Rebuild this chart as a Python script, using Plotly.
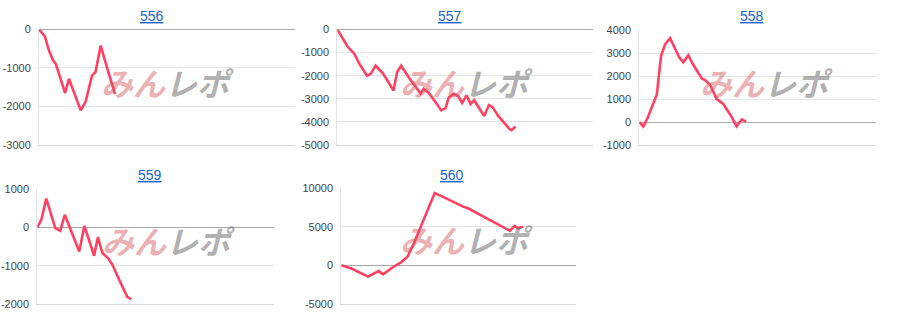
import plotly.graph_objects as go

# ---- data (x: position along play, 0-100 scale; y: difference in medals) ----
titles = ["556", "557", "558", "559", "560"]

x556 = [0, 2.3, 3.9, 5.5, 6.6, 10.2, 11.7, 16.3, 18.2, 20.7, 22.1, 24.1, 26.6, 29.7]
y556 = [0, -180, -550, -800, -900, -1650, -1280, -2100, -1880, -1200, -1100, -420, -1000, -1680]

x557 = [0, 4.0, 6.7, 8.6, 11.6, 13.0, 15.0, 17.8, 19.8, 22.0, 23.4, 25.0, 28.3, 32.6,
        33.8, 35.8, 38.5, 40.7, 42.4, 43.6, 45.6, 47.3, 48.9, 50.6, 52.2, 53.6, 56.5,
        57.5, 59.4, 60.8, 63.0, 65.6, 67.6, 68.2, 69.8]
y557 = [0, -740, -1060, -1475, -2000, -1930, -1570, -1890, -2240, -2650, -1850, -1570,
        -2125, -2770, -2570, -2740, -3150, -3500, -3400, -2950, -2780, -2880, -3180,
        -2850, -3225, -3060, -3570, -3740, -3270, -3360, -3740, -4100, -4330, -4360, -4200]

x558 = [0, 1.7, 3.6, 5.3, 7.4, 9.2, 10.9, 13.0, 15.4, 16.9, 18.6, 20.7, 22.8, 26.4,
        27.8, 29.9, 32.7, 34.5, 35.5, 39.0, 41.1, 43.3, 45.1]
y558 = [0, -190, 200, 640, 1200, 2880, 3380, 3650, 3140, 2810, 2600, 2910, 2490, 1900,
        1830, 1620, 1000, 850, 785, 225, -190, 115, 15]

x559 = [0, 1.7, 3.8, 5.5, 7.6, 9.7, 11.6, 15.1, 17.7, 19.9, 22.0, 24.0, 25.6, 27.5,
        29.9, 31.7, 34.8, 38.0, 39.7]
y559 = [0, 200, 750, 430, -20, -90, 330, -215, -630, 40, -380, -740, -255, -670, -800,
        -970, -1390, -1810, -1875]

x560 = [0, 4.3, 11.4, 13.5, 15.9, 17.8, 22.0, 25.6, 28.2, 30.6, 33.4, 36.9, 39.8, 44.0,
        46.2, 49.0, 51.9, 54.0, 59.0, 63.3, 66.8, 69.7, 71.8, 73.9, 75.4, 77.5]
y560 = [0, -420, -1470, -1170, -750, -1170, -250, 420, 1130, 2600, 4700, 7420, 9400,
        8800, 8470, 7960, 7630, 7420, 6580, 5950, 5320, 4780, 4490, 5120, 4820, 5030]

y_ranges = [(-3000, 0, 1000), (-5000, 0, 1000), (-1000, 4000, 1000),
            (-2000, 1000, 1000), (-5000, 10000, 5000)]

series = [(x556, y556), (x557, y557), (x558, y558), (x559, y559), (x560, y560)]

# ---- layout geometry (pixels in a 900x330 page) ----
W, H = 900, 330
boxes = [  # left, right, top, bottom
    (39, 295, 24.3, 144.3),
    (337.3, 592.7, 24.3, 144.3),
    (639.3, 876, 25, 144.3),
    (37.3, 274, 190, 309.3),
    (341.3, 576, 189.3, 309),
]
title_pos = [(152, 10), (450, 10), (752, 10), (150, 175), (452, 175)]
mark_pos = [(167, 79), (466, 79), (766, 79), (168, 243), (466, 242)]

LINE = "#ff4060"
GRID = "#e4e4e4"

fig = go.Figure()
layout = dict(
    width=W, height=H, margin=dict(l=0, r=0, t=0, b=0),
    paper_bgcolor="white", plot_bgcolor="white", showlegend=False,
    font=dict(family="Liberation Sans, Arial, sans-serif", size=11, color="#444"),
    annotations=[],
)

for i, ((xs, ys), (l, r, t, b), (lo, hi, step)) in enumerate(zip(series, boxes, y_ranges)):
    n = "" if i == 0 else str(i + 1)
    fig.add_trace(go.Scatter(x=xs, y=ys, mode="lines",
                             line=dict(color=LINE, width=2.6),
                             xaxis="x" + n, yaxis="y" + n, hoverinfo="x+y"))
    ticks = list(range(lo, hi + 1, step))
    layout["xaxis" + n] = dict(domain=[l / W, r / W], range=[0, 100], showgrid=False,
                               zeroline=False, showticklabels=False, ticks="",
                               showline=True, linecolor="#d6d6d6", linewidth=1,
                               anchor="y" + n, fixedrange=True)
    layout["yaxis" + n] = dict(domain=[1 - b / H, 1 - t / H], range=[lo, hi],
                               tickvals=ticks, ticktext=[str(v) for v in ticks],
                               showgrid=True, gridcolor=GRID, gridwidth=1,
                               zeroline=True, zerolinecolor="#a8a8a8", zerolinewidth=1,
                               showline=True, linecolor=GRID, linewidth=1,
                               ticks="", ticklabelstandoff=5,
                               anchor="x" + n, fixedrange=True)

for name, (tx, ty) in zip(titles, title_pos):
    layout["annotations"].append(dict(
        text="<u>" + name + "</u>", x=tx / W, y=1 - ty / H, xref="paper", yref="paper",
        xanchor="center", yanchor="middle", showarrow=False,
        font=dict(size=14, color="#1a5fcc", family="Liberation Sans, Arial, sans-serif")))

for (mx, my) in mark_pos:
    layout["annotations"].append(dict(
        text="<b><i><span style='color:rgba(214,90,95,0.48)'>みん</span>"
             "<span style='color:rgba(110,110,110,0.55)'>レポ</span></i></b>",
        x=mx / W, y=1 - my / H, xref="paper", yref="paper",
        xanchor="center", yanchor="middle", showarrow=False,
        font=dict(size=32, family="Noto Sans CJK JP")))

fig.update_layout(**layout)
fig.write_html("out.html")
